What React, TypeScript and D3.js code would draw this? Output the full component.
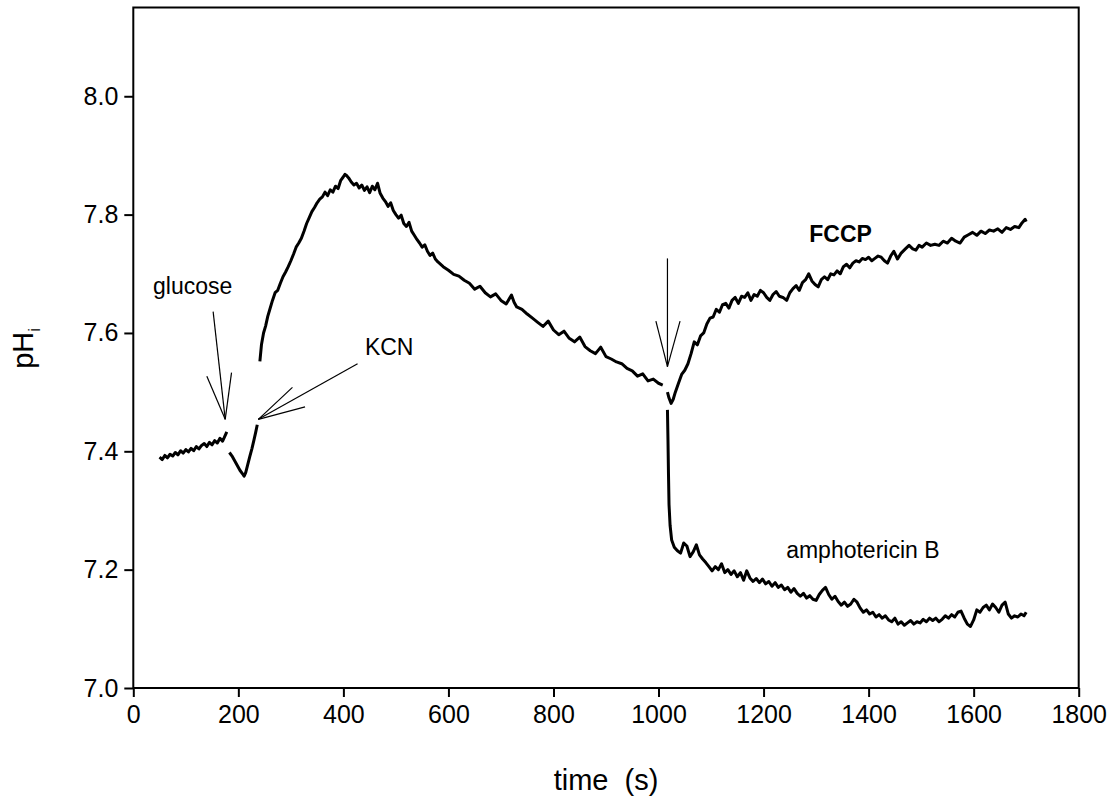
import React, { useEffect, useRef } from "react";
import * as d3 from "d3";

const W = 1114;
const H = 800;
const margin = { left: 133.3, right: 1114 - 1078.7, top: 7.5, bottom: 800 - 688 };

const xTicks = [0, 200, 400, 600, 800, 1000, 1200, 1400, 1600, 1800];
const yTicks = [7.0, 7.2, 7.4, 7.6, 7.8, 8.0];

// baseline before glucose
const baseT = [50,55,60,65,70,75,80,85,90,95,100,105,110,115,120,125,130,135,140,145,150,155,160,165,170,175,178];
const baseV = [7.390,7.386,7.393,7.389,7.395,7.392,7.398,7.394,7.401,7.397,7.403,7.399,7.405,7.401,7.408,7.404,7.410,7.413,7.408,7.415,7.411,7.418,7.414,7.422,7.417,7.427,7.433];

// after glucose, before KCN
const dipT = [183,188,193,198,203,208,211,214,218,222,226,230,233,236];
const dipV = [7.398,7.392,7.384,7.376,7.368,7.362,7.358,7.364,7.378,7.392,7.405,7.420,7.432,7.445];

// after KCN, up to FCCP / amphotericin addition
const mainT = [241,244,248,252,256,260,265,270,275,280,285,290,295,300,305,310,315,320,325,330,335,340,345,350,355,360,365,370,375,380,385,390,395,400,403,406,410,415,420,425,430,435,440,445,450,455,460,465,470,475,480,485,490,495,500,505,510,515,520,525,530,535,540,545,550,555,560,565,570,575,580,590,600,610,620,630,640,650,660,670,680,690,700,710,720,725,730,740,750,760,770,780,790,800,810,820,830,840,850,860,870,880,890,900,910,920,930,940,950,960,970,980,990,1000,1008];
const mainV = [7.552,7.580,7.600,7.612,7.628,7.640,7.655,7.668,7.672,7.684,7.695,7.703,7.712,7.722,7.733,7.745,7.752,7.760,7.772,7.785,7.795,7.805,7.812,7.820,7.826,7.830,7.838,7.832,7.842,7.838,7.848,7.844,7.858,7.864,7.868,7.866,7.862,7.855,7.850,7.853,7.845,7.850,7.841,7.847,7.837,7.848,7.842,7.853,7.836,7.828,7.822,7.814,7.820,7.807,7.800,7.794,7.799,7.785,7.780,7.787,7.772,7.765,7.758,7.752,7.745,7.749,7.738,7.731,7.735,7.725,7.720,7.712,7.706,7.699,7.696,7.689,7.684,7.674,7.679,7.668,7.661,7.666,7.655,7.649,7.664,7.652,7.644,7.640,7.632,7.625,7.618,7.611,7.620,7.605,7.597,7.603,7.591,7.585,7.593,7.577,7.570,7.565,7.576,7.560,7.556,7.551,7.548,7.540,7.536,7.527,7.531,7.519,7.522,7.515,7.512];

// FCCP trace
const fccpT = [1017,1020,1024,1028,1032,1038,1044,1050,1056,1062,1068,1074,1080,1086,1092,1098,1104,1110,1116,1122,1128,1134,1140,1146,1152,1158,1164,1170,1176,1182,1188,1194,1200,1206,1212,1218,1224,1230,1237,1244,1250,1256,1262,1268,1274,1280,1286,1292,1298,1304,1310,1316,1322,1328,1334,1340,1346,1352,1358,1364,1370,1376,1382,1388,1394,1400,1406,1412,1418,1424,1430,1436,1442,1448,1455,1462,1470,1477,1484,1490,1496,1502,1510,1518,1526,1534,1542,1550,1558,1566,1574,1582,1590,1598,1606,1614,1622,1630,1638,1646,1654,1662,1670,1678,1686,1692,1698,1700];
const fccpV = [7.500,7.490,7.481,7.488,7.500,7.515,7.530,7.537,7.548,7.565,7.585,7.580,7.595,7.600,7.615,7.625,7.627,7.640,7.635,7.648,7.650,7.642,7.655,7.660,7.650,7.662,7.660,7.668,7.655,7.665,7.662,7.672,7.668,7.660,7.655,7.665,7.670,7.662,7.660,7.655,7.668,7.675,7.680,7.672,7.685,7.690,7.700,7.688,7.682,7.678,7.690,7.695,7.690,7.700,7.698,7.705,7.700,7.712,7.716,7.710,7.718,7.722,7.720,7.726,7.724,7.728,7.722,7.726,7.730,7.728,7.722,7.718,7.730,7.738,7.725,7.735,7.742,7.748,7.742,7.740,7.748,7.745,7.752,7.748,7.750,7.748,7.755,7.752,7.760,7.755,7.752,7.762,7.766,7.770,7.765,7.772,7.768,7.774,7.772,7.776,7.770,7.778,7.775,7.780,7.778,7.786,7.792,7.788];

// amphotericin B trace
const ampT = [1017,1018,1019,1020,1022,1025,1030,1036,1042,1048,1054,1060,1066,1072,1078,1084,1090,1096,1102,1108,1114,1120,1126,1132,1138,1144,1150,1156,1162,1168,1174,1180,1186,1192,1198,1204,1210,1216,1222,1228,1234,1240,1246,1252,1258,1264,1270,1276,1282,1288,1294,1300,1306,1312,1318,1324,1330,1336,1342,1348,1354,1360,1366,1372,1378,1384,1390,1396,1402,1408,1414,1420,1426,1432,1438,1444,1450,1456,1462,1468,1474,1480,1486,1492,1498,1504,1510,1516,1522,1528,1534,1540,1546,1552,1558,1564,1570,1576,1582,1588,1594,1600,1606,1612,1618,1624,1630,1636,1642,1648,1654,1660,1666,1672,1678,1684,1690,1696,1700];
const ampV = [7.470,7.420,7.360,7.310,7.275,7.250,7.238,7.232,7.228,7.245,7.240,7.222,7.230,7.242,7.225,7.218,7.212,7.205,7.198,7.205,7.200,7.210,7.195,7.200,7.192,7.198,7.188,7.195,7.182,7.198,7.186,7.180,7.185,7.178,7.184,7.176,7.180,7.172,7.178,7.170,7.174,7.166,7.170,7.162,7.168,7.160,7.155,7.160,7.152,7.156,7.150,7.148,7.158,7.165,7.170,7.158,7.150,7.155,7.146,7.140,7.145,7.138,7.142,7.150,7.145,7.135,7.128,7.132,7.125,7.128,7.120,7.124,7.118,7.122,7.115,7.112,7.118,7.108,7.112,7.106,7.110,7.114,7.108,7.112,7.110,7.116,7.112,7.118,7.114,7.118,7.112,7.116,7.122,7.118,7.124,7.120,7.128,7.130,7.118,7.108,7.104,7.115,7.132,7.128,7.136,7.140,7.132,7.142,7.136,7.128,7.140,7.145,7.125,7.118,7.122,7.120,7.125,7.122,7.128];

// annotation arrows: [from t, from v, tip t, tip v, head1 t, head1 v, head2 t, head2 v]
const arrowGlucose = [152, 7.636, 175, 7.454, 140, 7.527, 187, 7.533];
const arrowKCN = [427, 7.548, 238, 7.454, 303, 7.508, 327, 7.475];
const arrowFCCP = [1017, 7.726, 1017, 7.543, 995, 7.62, 1041, 7.62];

const labels = [
  { text: "glucose", t: 37.5, v: 7.666, bold: false },
  { text: "KCN", t: 441, v: 7.5625, bold: false },
  { text: "FCCP", t: 1287, v: 7.753, bold: true },
  { text: "amphotericin B", t: 1243, v: 7.22, bold: false },
];

const FONT = "'Liberation Sans', Arial, sans-serif";

export default function App() {
  const ref = useRef<SVGSVGElement>(null);

  useEffect(() => {
    const svg = d3.select(ref.current);
    svg.selectAll("*").remove();

    const x = d3.scaleLinear().domain([0, 1800]).range([margin.left, W - margin.right]);
    const y = d3.scaleLinear().domain([7.0, 8.15]).range([H - margin.bottom, margin.top]);

    svg.append("rect").attr("width", W).attr("height", H).attr("fill", "#fff");

    // frame
    svg.append("rect")
      .attr("x", x(0)).attr("y", y(8.15))
      .attr("width", x(1800) - x(0)).attr("height", y(7.0) - y(8.15))
      .attr("fill", "none").attr("stroke", "#000").attr("stroke-width", 2);

    const xAxis = svg.append("g").attr("transform", `translate(0,${y(7.0)})`)
      .call(d3.axisBottom(x).tickValues(xTicks).tickSize(9).tickPadding(8).tickFormat(d3.format("d")));
    xAxis.select(".domain").remove();
    xAxis.selectAll("line").attr("stroke-width", 2);
    xAxis.selectAll("text").attr("font-size", 25).attr("font-family", FONT).attr("fill", "#000");

    const yAxis = svg.append("g").attr("transform", `translate(${x(0)},0)`)
      .call(d3.axisLeft(y).tickValues(yTicks).tickSize(9).tickPadding(6).tickFormat(d3.format(".1f")));
    yAxis.select(".domain").remove();
    yAxis.selectAll("line").attr("stroke-width", 2);
    yAxis.selectAll("text").attr("font-size", 25).attr("font-family", FONT).attr("fill", "#000");

    // axis titles
    svg.append("text").attr("x", (x(0) + x(1800)) / 2).attr("y", 790)
      .attr("text-anchor", "middle").attr("font-size", 29).attr("font-family", FONT)
      .attr("xml:space", "preserve").style("white-space", "pre").text("time  (s)");

    const yl = svg.append("text").attr("transform", `translate(33,${y(7.574)}) rotate(-90)`)
      .attr("text-anchor", "middle").attr("font-size", 29).attr("font-family", FONT);
    yl.append("tspan").text("pH");
    yl.append("tspan").attr("font-size", 17).attr("dy", 7).text("i");

    const line = d3.line<[number, number]>().x(d => x(d[0])).y(d => y(d[1]));
    const series = [
      [baseT, baseV], [dipT, dipV], [mainT, mainV], [fccpT, fccpV], [ampT, ampV],
    ];
    series.forEach(([ts, vs]) => {
      const pts = ts.map((t, i) => [t, vs[i]] as [number, number]);
      svg.append("path").attr("d", line(pts)).attr("fill", "none")
        .attr("stroke", "#000").attr("stroke-width", 3).attr("stroke-linejoin", "round");
    });

    [arrowGlucose, arrowKCN, arrowFCCP].forEach(a => {
      const segs = [[a[0], a[1]], [a[4], a[5]], [a[6], a[7]]];
      segs.forEach(s => {
        svg.append("line").attr("x1", x(s[0])).attr("y1", y(s[1]))
          .attr("x2", x(a[2])).attr("y2", y(a[3]))
          .attr("stroke", "#000").attr("stroke-width", 1.2);
      });
    });

    labels.forEach(l => {
      svg.append("text").attr("x", x(l.t)).attr("y", y(l.v))
        .attr("font-size", 23).attr("font-family", FONT)
        .attr("font-weight", l.bold ? "bold" : "normal").text(l.text);
    });
  }, []);

  return (
    <div style={{ position: "absolute", left: 0, top: 0 }}>
      <svg ref={ref} width={W} height={H} style={{ display: "block" }} />
    </div>
  );
}
